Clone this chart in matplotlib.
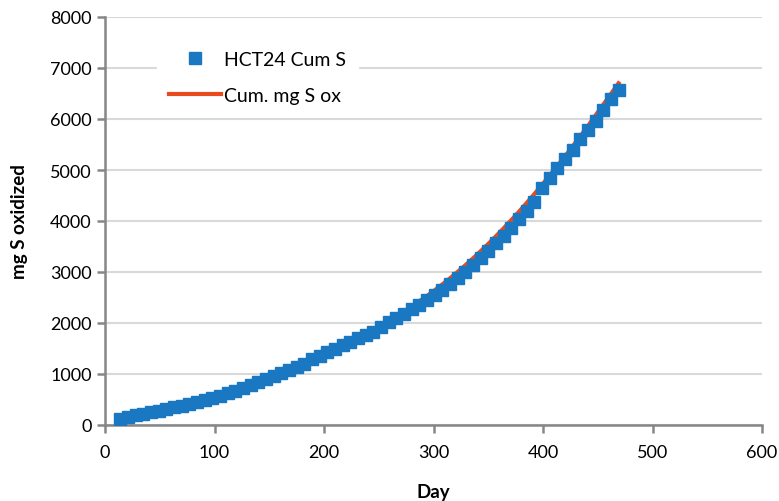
import matplotlib

matplotlib.use("Agg")
import matplotlib.pyplot as plt  # noqa: E402

# weekly sampling days
days = [14, 21, 28, 35, 42, 49, 56, 63, 70, 77, 84, 91, 98, 105, 112, 119,
        126, 133, 140, 147, 154, 161, 168, 175, 182, 189, 196, 203, 210, 217,
        224, 231, 238, 245, 252, 259, 266, 273, 280, 287, 294, 301, 308, 315,
        322, 329, 336, 343, 350, 357, 364, 371, 378, 385, 392, 399, 406, 413,
        420, 427, 434, 441, 448, 455, 462, 469]

hct24_cum_s = [110, 150, 190, 220, 250, 280, 310, 345, 380, 415, 450, 490,
               530, 570, 620, 670, 725, 780, 835, 895, 955, 1015, 1075, 1140,
               1200, 1290, 1360, 1430, 1500, 1570, 1630, 1700, 1760, 1830,
               1920, 2010, 2100, 2180, 2270, 2360, 2450, 2550, 2650, 2760,
               2880, 3000, 3130, 3270, 3410, 3560, 3710, 3870, 4030, 4200,
               4380, 4640, 4840, 5030, 5220, 5400, 5600, 5780, 5960, 6180,
               6400, 6560]

cum_mg_s_ox = [0, 60, 120, 170, 215, 255, 295, 335, 370, 410, 450, 490, 530,
               575, 620, 670, 720, 775, 830, 890, 950, 1010, 1075, 1140, 1210,
               1280, 1350, 1420, 1495, 1570, 1640, 1710, 1785, 1860, 1945,
               2035, 2125, 2220, 2320, 2425, 2530, 2640, 2755, 2875, 3000,
               3130, 3265, 3405, 3550, 3700, 3855, 4015, 4180, 4350, 4525,
               4705, 4890, 5075, 5265, 5460, 5660, 5860, 6070, 6280, 6490,
               6700]

plt.rcParams["font.family"] = ["Lato", "DejaVu Sans"]

W, H = 779, 502
fig = plt.figure(figsize=(W / 100, H / 100), dpi=100)
ax = fig.add_axes([105 / W, 1 - 426 / H, (762 - 105) / W, (426 - 18) / H])

line, = ax.plot(days, cum_mg_s_ox, color="#e8491d", linewidth=3, zorder=2,
                label="Cum. mg S ox")
pts, = ax.plot(days, hct24_cum_s, linestyle="none", marker="s", markersize=8,
               color="#1a78c2", zorder=3, label="HCT24 Cum S")

ax.set_xlim(0, 600)
ax.set_ylim(0, 8000)
ax.set_xticks(range(0, 601, 100))
ax.set_yticks(range(0, 8001, 1000))
ax.grid(axis="y", color="#d9d9d9", linewidth=1.5)
ax.set_axisbelow(True)

for s in ("top", "right"):
    ax.spines[s].set_visible(False)
for s in ("left", "bottom"):
    ax.spines[s].set_color("#868686")
    ax.spines[s].set_linewidth(1.8)
ax.tick_params(axis="both", colors="#868686", width=1.8, length=6,
               labelcolor="black", labelsize=13)
ax.tick_params(axis="x", pad=8)

ax.set_xlabel("Day", fontsize=13.5, fontweight="bold", labelpad=16)
ax.set_ylabel("mg S oxidized", fontsize=13.5, fontweight="bold", labelpad=16)

leg = ax.legend(handles=[pts, line], loc="upper left",
                bbox_to_anchor=(52 / 657, 1 - 22 / 408), frameon=True,
                fontsize=14, handlelength=2.7, borderpad=0.6, labelspacing=1.0,
                handletextpad=0.15, borderaxespad=0)
leg.get_frame().set_edgecolor("white")
leg.get_frame().set_facecolor("white")
leg.get_frame().set_alpha(1)
leg.get_frame().set_boxstyle("square", pad=0)

fig.savefig("out.png", dpi=100)
